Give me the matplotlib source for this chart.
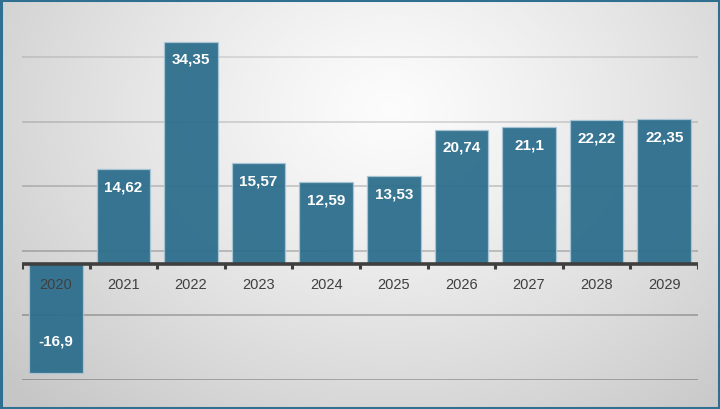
import numpy as np
import matplotlib.pyplot as plt
from matplotlib.patches import Rectangle

years = ['2020', '2021', '2022', '2023', '2024', '2025', '2026', '2027', '2028', '2029']
values = [-16.9, 14.62, 34.35, 15.57, 12.59, 13.53, 20.74, 21.1, 22.22, 22.35]
labels = ['-16,9', '14,62', '34,35', '15,57', '12,59', '13,53', '20,74', '21,1', '22,22', '22,35']
grid_vals = [-18, -8, 2, 12, 22, 32]

plt.rcParams['font.family'] = ['Liberation Sans', 'DejaVu Sans']

W, H = 720, 410
fig = plt.figure(figsize=(W / 100, H / 100), dpi=100)

# radial grey background
bg = fig.add_axes([0, 0, 1, 1])
yy, xx = np.mgrid[0:H, 0:W]
r = np.sqrt(((xx - 390) / 430.0) ** 2 + ((yy - 110) / 340.0) ** 2)
shade = np.clip(0.99 - 0.17 * r ** 1.2, 0.78, 1)
bg.imshow(np.dstack([shade] * 3), extent=[0, W, H, 0], aspect='auto')
bg.set_xlim(0, W)
bg.set_ylim(H, 0)
bg.axis('off')
bg.add_patch(Rectangle((1, 1), W - 2, H - 2, fill=False, edgecolor='#2f6f8f', lw=2.2))

# plot area in pixels
left, right = 22, 698
ymin, ymax = -18, 36
px_per = 6.46
bottom_px = 381
top_px = bottom_px - (ymax - ymin) * px_per
ax = fig.add_axes([left / W, (H - bottom_px) / H, (right - left) / W, (bottom_px - top_px) / H])
ax.patch.set_alpha(0)
ax.set_xlim(-0.5, len(years) - 0.5)
ax.set_ylim(ymin, ymax)
for s in ax.spines.values():
    s.set_visible(False)
ax.set_xticks([])
ax.set_yticks([])

# gridlines fade toward the bright top
for g in grid_vals:
    a = 0.26 - 0.16 * (g - ymin) / (grid_vals[-1] - ymin)
    ax.axhline(g, color='black', alpha=a, lw=1.4, zorder=1)

x = np.arange(len(years))
ax.bar(x, values, width=0.79, color='#2a6c8b', alpha=0.93, edgecolor='#a9c6d6', linewidth=0.9, zorder=2)

# zero axis with ticks at category boundaries
ax.axhline(0, color='#3f3f3f', lw=2.6, zorder=3)
for b in np.arange(-0.5, len(years), 1.0):
    ax.plot([b, b], [0, -0.75], color='#3f3f3f', lw=2.2, zorder=3, solid_capstyle='butt')

for i, (v, lab) in enumerate(zip(values, labels)):
    off = -17 if v >= 0 else 32
    ax.annotate(lab, (i, v), xytext=(0, off), textcoords='offset pixels',
                ha='center', va='center', color='white', fontsize=11, fontweight='bold', zorder=4)
    ax.annotate(years[i], (i, 0), xytext=(0, -20), textcoords='offset pixels',
                ha='center', va='center', color='#404040', fontsize=10.5, zorder=4)

fig.savefig('out.png', dpi=100)
